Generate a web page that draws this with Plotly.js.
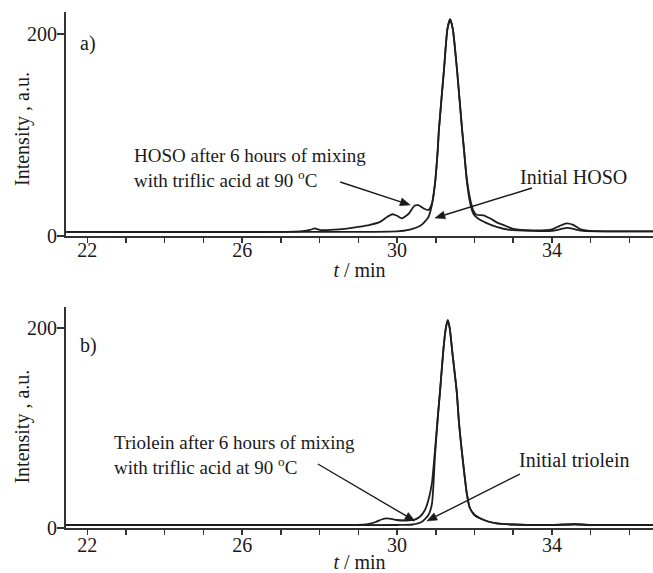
<!DOCTYPE html>
<html><head><meta charset="utf-8">
<script src="https://cdn.plot.ly/plotly-3.0.1.min.js"></script>
<style>body{margin:0;background:#fff}#c{width:653px;height:573px}</style>
</head><body><div id="c"></div>
<script>
// Panel a) HOSO
const tA_init = [21.45,27.0,30.0,30.3,30.6,30.8,30.89,30.98,31.05,31.08,31.21,31.3,31.37,31.44,31.55,31.68,31.73,31.8,31.88,31.97,32.1,32.3,32.57,32.9,33.5,34.0,34.2,34.4,34.6,34.8,35.5,36.61];
const vA_init = [4,4,4.5,6,10,18,29,52,85,105,164,205,215,205,164,105,85,55,34,22,17,13,9,6,5,5,6.5,8,6.5,5,4.5,4.5];
const tA_after = [21.45,27.5,27.75,27.88,28.0,28.5,29.0,29.3,29.56,29.75,29.88,30.0,30.12,30.3,30.45,30.55,30.7,30.81,30.9,30.98,31.05,31.08,31.21,31.3,31.37,31.44,31.55,31.68,31.73,31.8,31.88,31.97,32.05,32.23,32.4,32.6,32.74,33.0,33.5,34.0,34.2,34.38,34.55,34.75,35.0,36.61];
const vA_after = [4,4.5,6,7.5,6,6.5,9,11,14,19,21.5,20,17.5,22,30,30.5,27,25.7,32,52,85,105,164,205,215,205,164,105,85,57,38,25,21,20.5,17.5,13,10.9,7,5.5,6.5,10,12.5,11,6.5,5,4.5];
// Panel b) triolein
const tB_init = [21.45,28.0,30.0,30.4,30.63,30.81,30.9,30.98,31.05,31.11,31.2,31.26,31.31,31.36,31.43,31.54,31.6,31.67,31.8,31.88,32.0,32.14,32.35,32.57,33.0,34.0,34.6,35.0,36.61];
const vB_init = [3,3,3,3.5,6,13,24,72,110,137,180,200,208,200,175,137,105,78,35,20,13,9.7,6.5,4.7,3.5,3,3.5,3,3];
const tB_after = [21.45,28.0,29.2,29.45,29.6,29.73,29.85,29.99,30.25,30.42,30.59,30.72,30.81,30.9,30.98,31.05,31.11,31.2,31.26,31.31,31.36,31.43,31.54,31.6,31.67,31.8,31.88,32.0,32.14,32.35,32.57,33.0,34.0,34.6,35.0,36.61];
const vB_after = [3,3,3.5,6,8.5,9.7,9.2,8,7.5,8,11.3,18,28,45,78,110,137,180,200,208,200,175,137,105,78,35,20,13,9.7,6.5,4.7,3.5,3,4,3,3];
const xTicks = [22,23,24,25,26,27,28,29,30,31,32,33,34,35,36];
const xTickText = ['22','','','','26','','','','30','','','','34','',''];
const yTicks = [0,200];

const lineStyle = {color:'#1e1e1e', width:1.8, shape:'spline', smoothing:0.6};
const font = {family:'"Liberation Serif", "Times New Roman", serif', size:20, color:'#1a1a1a'};
const font19 = Object.assign({}, font, {size:19});
const data = [
  {x:tA_init, y:vA_init, xaxis:'x', yaxis:'y', mode:'lines', line:lineStyle, name:'Initial HOSO'},
  {x:tA_after, y:vA_after, xaxis:'x', yaxis:'y', mode:'lines', line:lineStyle, name:'HOSO after'},
  {x:tB_init, y:vB_init, xaxis:'x2', yaxis:'y2', mode:'lines', line:lineStyle, name:'Initial triolein'},
  {x:tB_after, y:vB_after, xaxis:'x2', yaxis:'y2', mode:'lines', line:lineStyle, name:'Triolein after'}
];
const xaxisBase = {range:[21.45,36.61], tickvals:xTicks, ticktext:xTickText, ticks:'outside', ticklen:5, tickwidth:1.5, tickcolor:'#333',
  showline:true, linecolor:'#333', linewidth:2, showgrid:false, zeroline:false, tickfont:font};
const yaxisBase = {range:[0,222], tickvals:yTicks, ticks:'outside', ticklen:7, tickwidth:1.5, tickcolor:'#333',
  showline:true, linecolor:'#333', linewidth:2, showgrid:false, zeroline:false, tickfont:font, ticklabelstandoff:-4};
const txt = (xr, yr, x, y, s, f) => ({xref:xr, yref:yr, x:x, y:y, text:s, showarrow:false, xanchor:'left', yanchor:'middle', align:'left', font:f || font});

// Arrow as two shapes: shaft + filled head. Head anchored at data point, tail given as pixel offset (screen: +x right, +y down).
function arrow(xr, yr, hx, hy, dx, dy) {
  const tx = dx, ty = -dy;               // pixel mode: y up
  const len = Math.hypot(tx, ty), ux = -tx / len, uy = -ty / len; // unit vector tail->head
  const L = 10, W = 4;
  const bx = -ux * L, by = -uy * L;      // base centre of head
  const nx = -uy, ny = ux;
  const common = {xref:xr, yref:yr, xsizemode:'pixel', ysizemode:'pixel', xanchor:hx, yanchor:hy};
  return [
    Object.assign({type:'line', x0:tx, y0:ty, x1:bx, y1:by, line:{color:'#1a1a1a', width:1.4}}, common),
    Object.assign({type:'path', path:`M 0 0 L ${bx + nx * W} ${by + ny * W} L ${bx - nx * W} ${by - ny * W} Z`,
      fillcolor:'#1a1a1a', line:{color:'#1a1a1a', width:0.5}}, common)
  ];
}
const shapes = [].concat(
  arrow('x', 'y', 30.34, 30.7, -70, -23),
  arrow('x', 'y', 30.98, 17.8, 97, -30),
  arrow('x2', 'y2', 30.46, 7, -97, -57),
  arrow('x2', 'y2', 30.77, 7, 93, -47)
);
const layout = {
  width:653, height:573, margin:{l:66, r:0, t:12, b:45}, paper_bgcolor:'#fff', plot_bgcolor:'#fff', showlegend:false, font:font,
  xaxis:Object.assign({}, xaxisBase, {domain:[0,1], anchor:'y', ticklabelstandoff:-10, title:{text:'<i>t</i> / min', font:font, standoff:3}}),
  yaxis:Object.assign({}, yaxisBase, {domain:[0.566,1], anchor:'x'}),
  xaxis2:Object.assign({}, xaxisBase, {domain:[0,1], anchor:'y2', ticklabelstandoff:-7, title:{text:'<i>t</i> / min', font:font, standoff:10}}),
  yaxis2:Object.assign({}, yaxisBase, {domain:[0,0.428], anchor:'x2', range:[0,221]}),
  shapes: shapes,
  annotations:[
    {xref:'paper', yref:'y domain', x:0, xshift:-43, y:0.5, yshift:-5, text:'Intensity , a.u.', textangle:-90, showarrow:false, xanchor:'center', yanchor:'middle', font:font},
    {xref:'paper', yref:'y2 domain', x:0, xshift:-43, y:0.5, yshift:-9, text:'Intensity , a.u.', textangle:-90, showarrow:false, xanchor:'center', yanchor:'middle', font:font},
    txt('x','y',21.75,191,'a)'),
    txt('x2','y2',21.75,183,'b)'),
    txt('x','y',23.15,67,'HOSO after 6 hours of mixing<br>with triflic acid at 90 <sup>o</sup>C', font19),
    txt('x','y',33.12,58,'Initial HOSO'),
    txt('x2','y2',22.64,73,'Triolein after 6 hours of mixing<br>with triflic acid at 90 <sup>o</sup>C', font19),
    txt('x2','y2',33.1,68,'Initial triolein')
  ]
};
Plotly.newPlot('c', data, layout, {staticPlot:true, displayModeBar:false});
</script></body></html>
